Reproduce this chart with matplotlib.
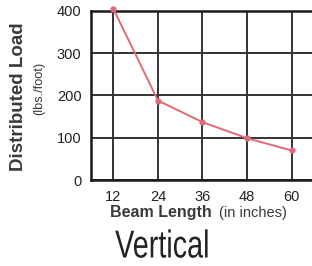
import matplotlib
matplotlib.use("Agg")
import matplotlib.pyplot as plt
from matplotlib.patheffects import AbstractPathEffect
from matplotlib.transforms import Affine2D

# beam length (inches) vs distributed load (lbs./foot)
beam_length = [12, 24, 36, 48, 60]
load = [405, 188, 137, 99, 70]
x_ticks = [12, 24, 36, 48, 60]
y_ticks = [0, 100, 200, 300, 400]


class Squeeze(AbstractPathEffect):
    # squeeze text horizontally (no condensed font installed)
    def __init__(self, sx):
        super().__init__()
        self.sx = sx

    def draw_path(self, renderer, gc, tpath, affine, rgbFace=None):
        renderer.draw_path(gc, tpath, Affine2D().scale(self.sx, 1) + affine, rgbFace)


plt.rcParams["font.family"] = ["Liberation Sans", "DejaVu Sans"]

fig = plt.figure(figsize=(3.12, 2.66), dpi=100)
ax = fig.add_axes([0.292, 0.323, 0.72, 0.636])

ax.plot(beam_length, load, color="#e06a78", lw=1.4, marker="o", ms=3.5,
        zorder=5, clip_on=False)

ax.set_xlim(6, 66.5)
ax.set_ylim(0, 400)
ax.set_xticks(x_ticks)
ax.set_yticks(y_ticks)
ax.grid(True, color="#333333", lw=1.4)
ax.tick_params(length=0, labelsize=10.5, colors="#222222", pad=7)
for s in ax.spines.values():
    s.set_color("#1a1a1a")
    s.set_linewidth(1.8)

fig.text(0.058, 0.636, "Distributed Load", rotation=90, ha="center", va="center",
         fontsize=13.5, fontweight="bold", color="#3a3a3a")
fig.text(0.126, 0.669, "(lbs./foot)", rotation=90, ha="center", va="center",
         fontsize=9.2, color="#3a3a3a")

fig.text(0.353, 0.203, "Beam Length", ha="left", va="center",
         fontsize=11.5, fontweight="bold", color="#3a3a3a")
fig.text(0.703, 0.200, "(in inches)", ha="left", va="center",
         fontsize=10.5, color="#3a3a3a")

fig.text(0.369, 0.032, "Vertical", ha="left", va="baseline", fontsize=28,
         color="#222222", path_effects=[Squeeze(0.74)])

fig.savefig("out.png", dpi=100)
